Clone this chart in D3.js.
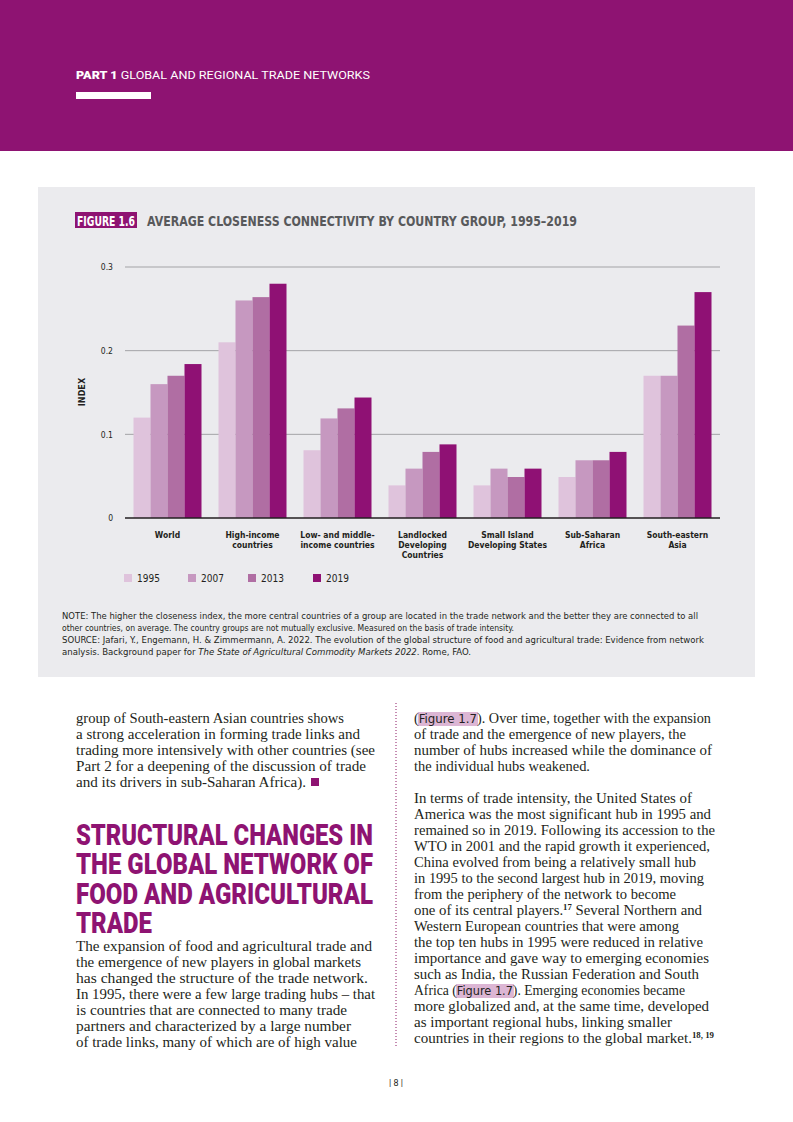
<!DOCTYPE html>
<html><head><meta charset="utf-8">
<script src="https://cdn.jsdelivr.net/npm/d3@7"></script>
<style>
html,body{margin:0;padding:0;background:#fff;}
svg{display:block;}
</style></head>
<body>
<svg id="page" width="793" height="1122"></svg>
<script>
// ---------- DATA ----------
const categories = ["World","High-income countries","Low- and middle-income countries","Landlocked Developing Countries","Small Island Developing States","Sub-Saharan Africa","South-eastern Asia"];
const categoryLines = [["World"],["High-income","countries"],["Low- and middle-","income countries"],["Landlocked","Developing","Countries"],["Small Island","Developing States"],["Sub-Saharan","Africa"],["South-eastern","Asia"]];
const years = ["1995","2007","2013","2019"];
const v1995 = [0.12, 0.21, 0.081, 0.039, 0.039, 0.049, 0.17];
const v2007 = [0.16, 0.26, 0.119, 0.059, 0.059, 0.069, 0.17];
const v2013 = [0.17, 0.264, 0.131, 0.079, 0.049, 0.069, 0.23];
const v2019 = [0.184, 0.28, 0.144, 0.088, 0.059, 0.079, 0.27];
const yTicks = [0, 0.1, 0.2, 0.3];
const yTickLabels = ["0","0.1","0.2","0.3"];
const colors = ["#dfc3dc","#c698c0","#b06ea3","#8f1174"];

const series = [v1995, v2007, v2013, v2019];
const table = categories.map((c,i)=>({cat:c, vals: years.map((y,j)=>({year:y, v:series[j][i]}))}));

const svg = d3.select("#page");
const purple = "#8e1372";
const cond = "'Liberation Sans Narrow','DejaVu Sans Condensed','Roboto',sans-serif";
const serif = "'Liberation Serif','DejaVu Serif',serif";

// ---------- HEADER ----------
svg.append("rect").attr("x",0).attr("y",0).attr("width",793).attr("height",151).attr("fill",purple);
const ht = svg.append("text").attr("x",76).attr("y",79).attr("fill","#fff")
  .attr("font-family","'Roboto','Liberation Sans',sans-serif").attr("font-size",11.2)
  .attr("textLength",294).attr("lengthAdjust","spacingAndGlyphs");
ht.append("tspan").attr("font-weight","900").text("PART 1 ");
ht.append("tspan").text("GLOBAL AND REGIONAL TRADE NETWORKS");
svg.append("rect").attr("x",76).attr("y",92).attr("width",75).attr("height",7).attr("fill","#fff");

// ---------- FIGURE BOX ----------
svg.append("rect").attr("x",38).attr("y",187).attr("width",717).attr("height",490).attr("fill","#ebebee");
svg.append("rect").attr("x",75).attr("y",212).attr("width",62).attr("height",16).attr("fill",purple);
svg.append("text").attr("x",77).attr("y",225.5).attr("fill","#fff").attr("font-family",cond)
  .attr("font-weight","bold").attr("font-size",14).attr("textLength",58).attr("lengthAdjust","spacingAndGlyphs")
  .text("FIGURE 1.6");
svg.append("text").attr("x",147).attr("y",225.5).attr("fill","#58595b").attr("font-family",cond)
  .attr("font-weight","bold").attr("font-size",14.5).attr("textLength",430).attr("lengthAdjust","spacingAndGlyphs")
  .text("AVERAGE CLOSENESS CONNECTIVITY BY COUNTRY GROUP, 1995\u20132019");

// ---------- CHART ----------
const x0 = 125, x1 = 720, yTop = 267, yBot = 518;
const x = d3.scaleBand().domain(categories).range([x0,x1]).paddingInner(0.2).paddingOuter(0.1);
const xs = d3.scaleBand().domain(years).range([0,x.bandwidth()]).padding(0);
const y = d3.scaleLinear().domain([0,0.3]).range([yBot,yTop]);

const g = svg.append("g");
g.selectAll("line.grid").data(yTicks.filter(t=>t>0)).enter().append("line")
  .attr("x1",x0).attr("x2",x1).attr("y1",d=>y(d)).attr("y2",d=>y(d))
  .attr("stroke","#a3a3a6").attr("stroke-width",1);
const yAxis = d3.axisLeft(y).tickValues(yTicks).tickSize(0).tickPadding(0).tickFormat((d,i)=>yTickLabels[i]);
const ya = g.append("g").attr("transform",`translate(113,0)`).call(yAxis);
ya.select(".domain").remove();
ya.selectAll("text").attr("font-family",cond).attr("font-size",8.5).attr("fill","#231f20").attr("dy","0.32em");
svg.append("text").attr("transform","translate(85,392) rotate(-90)").attr("text-anchor","middle")
  .attr("font-family",cond).attr("font-weight","bold").attr("font-size",9).attr("fill","#231f20").text("INDEX");

const grp = g.selectAll("g.grp").data(table).enter().append("g").attr("transform",d=>`translate(${x(d.cat)},0)`);
grp.selectAll("rect").data(d=>d.vals).enter().append("rect")
  .attr("x",d=>xs(d.year)).attr("width",xs.bandwidth()).attr("y",d=>y(d.v)).attr("height",d=>yBot-y(d.v))
  .attr("fill",(d,i)=>colors[i]);
g.append("line").attr("x1",x0).attr("x2",x1).attr("y1",yBot).attr("y2",yBot).attr("stroke","#231f20").attr("stroke-width",1.5);

const xl = g.selectAll("text.xl").data(categories).enter().append("text")
  .attr("text-anchor","middle").attr("font-family",cond).attr("font-weight","bold").attr("font-size",8.5).attr("fill","#231f20");
xl.each(function(d,i){
  const t = d3.select(this);
  categoryLines[i].forEach((ln,k)=>{
    t.append("tspan").attr("x",x(d)+x.bandwidth()/2).attr("y",538+k*10).text(ln);
  });
});

const legX = [124,188,248,313];
const lg = svg.selectAll("g.leg").data(years).enter().append("g").attr("transform",(d,i)=>`translate(${legX[i]},574)`);
lg.append("rect").attr("width",8).attr("height",8).attr("fill",(d,i)=>colors[i]);
lg.append("text").attr("x",13).attr("y",8).attr("font-family",cond).attr("font-size",10).attr("fill","#231f20").text(d=>d);

const notes = [
  {t:[["NOTE: The higher the closeness index, the more central countries of a group are located in the trade network and the better they are connected to all",""]], w:636},
  {t:[["other countries, on average. The country groups are not mutually exclusive. Measured on the basis of trade intensity.",""]], w:452},
  {t:[["SOURCE: Jafari, Y., Engemann, H. & Zimmermann, A. 2022. The evolution of the global structure of food and agricultural trade: Evidence from network",""]], w:642},
  {t:[["analysis. Background paper for ",""],["The State of Agricultural Commodity Markets 2022","italic"],[". Rome, FAO.",""]], w:409}
];
notes.forEach((n,i)=>{
  const t = svg.append("text").attr("x",62).attr("y",619+i*12).attr("font-family",cond).attr("font-size",9.3)
    .attr("fill","#231f20").attr("textLength",n.w).attr("lengthAdjust","spacingAndGlyphs");
  n.t.forEach(p=>{ const s=t.append("tspan").text(p[0]); if(p[1]) s.attr("font-style","italic"); });
});

// ---------- BODY TEXT ----------
const hlLayer = svg.append("g");
const textLayer = svg.append("g");
function bodyLine(xp, yp, parts, w){
  const t = textLayer.append("text").attr("x",xp).attr("y",yp).attr("font-family",serif).attr("font-size",13.6).attr("fill","#231f20");
  if(w) t.attr("textLength",w).attr("lengthAdjust","spacingAndGlyphs");
  let afterSup = false;
  const figs = [];
  parts.forEach(p=>{
    let s, isSup = false;
    if(typeof p === "string") s = t.append("tspan").text(p);
    else if(p.supText){ isSup = true; s = t.append("tspan").attr("font-size",8).attr("font-weight","bold").attr("dy",-5).text(p.supText); }
    else if(p.fig){ s = t.append("tspan").attr("font-family",cond).attr("font-size",12.5).text(p.fig); figs.push(s); }
    if(afterSup && !isSup) s.attr("dy",5);
    afterSup = isSup;
  });
  figs.forEach(s=>{
    const b = s.node().getBBox();
    hlLayer.append("rect").attr("x",b.x-1).attr("y",yp-11).attr("width",b.width+2).attr("height",14).attr("fill","#dcb6d4");
  });
  return t;
}
const left = [
  ["group of South-eastern Asian countries shows",268],
  ["a strong acceleration in forming trade links and",284],
  ["trading more intensively with other countries (see",299],
  ["Part 2 for a deepening of the discussion of trade",290],
  ["and its drivers in sub-Saharan Africa).",230]
];
left.forEach((l,i)=>bodyLine(76,723+i*16,[l[0]],l[1]));
svg.append("rect").attr("x",311).attr("y",778).attr("width",8).attr("height",8).attr("fill",purple);

const heads = [["STRUCTURAL CHANGES IN",297],["THE GLOBAL NETWORK OF",297],["FOOD AND AGRICULTURAL",297],["TRADE",76]];
heads.forEach((h,i)=>{
  svg.append("text").attr("x",76).attr("y",845+i*29.3).attr("font-family","'Roboto','Liberation Sans',sans-serif").attr("font-weight","900")
    .attr("font-size",30).attr("fill",purple).attr("textLength",h[1]).attr("lengthAdjust","spacingAndGlyphs").text(h[0]);
});
const left2 = [
  ["The expansion of food and agricultural trade and",296],
  ["the emergence of new players in global markets",285],
  ["has changed the structure of the trade network.",292],
  ["In 1995, there were a few large trading hubs \u2013 that",299],
  ["is countries that are connected to many trade",271],
  ["partners and characterized by a large number",275],
  ["of trade links, many of which are of high value",281]
];
left2.forEach((l,i)=>bodyLine(76,951+i*16,[l[0]],l[1]));

svg.append("line").attr("x1",396).attr("x2",396).attr("y1",703).attr("y2",1046)
  .attr("stroke","#a0407f").attr("stroke-width",1.2).attr("stroke-dasharray","1,2");

const right = [
  [[ "(", {fig:"Figure 1.7"}, "). Over time, together with the expansion"],297],
  [["of trade and the emergence of new players, the"],272],
  [["number of hubs increased while the dominance of"],298],
  [["the individual hubs weakened."],176],
  null,
  [["In terms of trade intensity, the United States of"],278],
  [["America was the most significant hub in 1995 and"],297],
  [["remained so in 2019. Following its accession to the"],301],
  [["WTO in 2001 and the rapid growth it experienced,"],296],
  [["China evolved from being a relatively small hub"],282],
  [["in 1995 to the second largest hub in 2019, moving"],290],
  [["from the periphery of the network to become"],262],
  [["one of its central players.",{supText:"17"}," Several Northern and"],288],
  [["Western European countries that were among"],265],
  [["the top ten hubs in 1995 were reduced in relative"],289],
  [["importance and gave way to emerging economies"],295],
  [["such as India, the Russian Federation and South"],285],
  [["Africa (",{fig:"Figure 1.7"},"). Emerging economies became"],271],
  [["more globalized and, at the same time, developed"],295],
  [["as important regional hubs, linking smaller"],258],
  [["countries in their regions to the global market.",{supText:"18, 19"}],300]
];
right.forEach((l,i)=>{ if(l) bodyLine(414,723+i*16,l[0],l[1]); });

svg.append("text").attr("x",396).attr("y",1086).attr("text-anchor","middle").attr("font-family","'Roboto',sans-serif")
  .attr("font-size",9).attr("fill","#231f20").text("| 8 |");
</script>
</body></html>
